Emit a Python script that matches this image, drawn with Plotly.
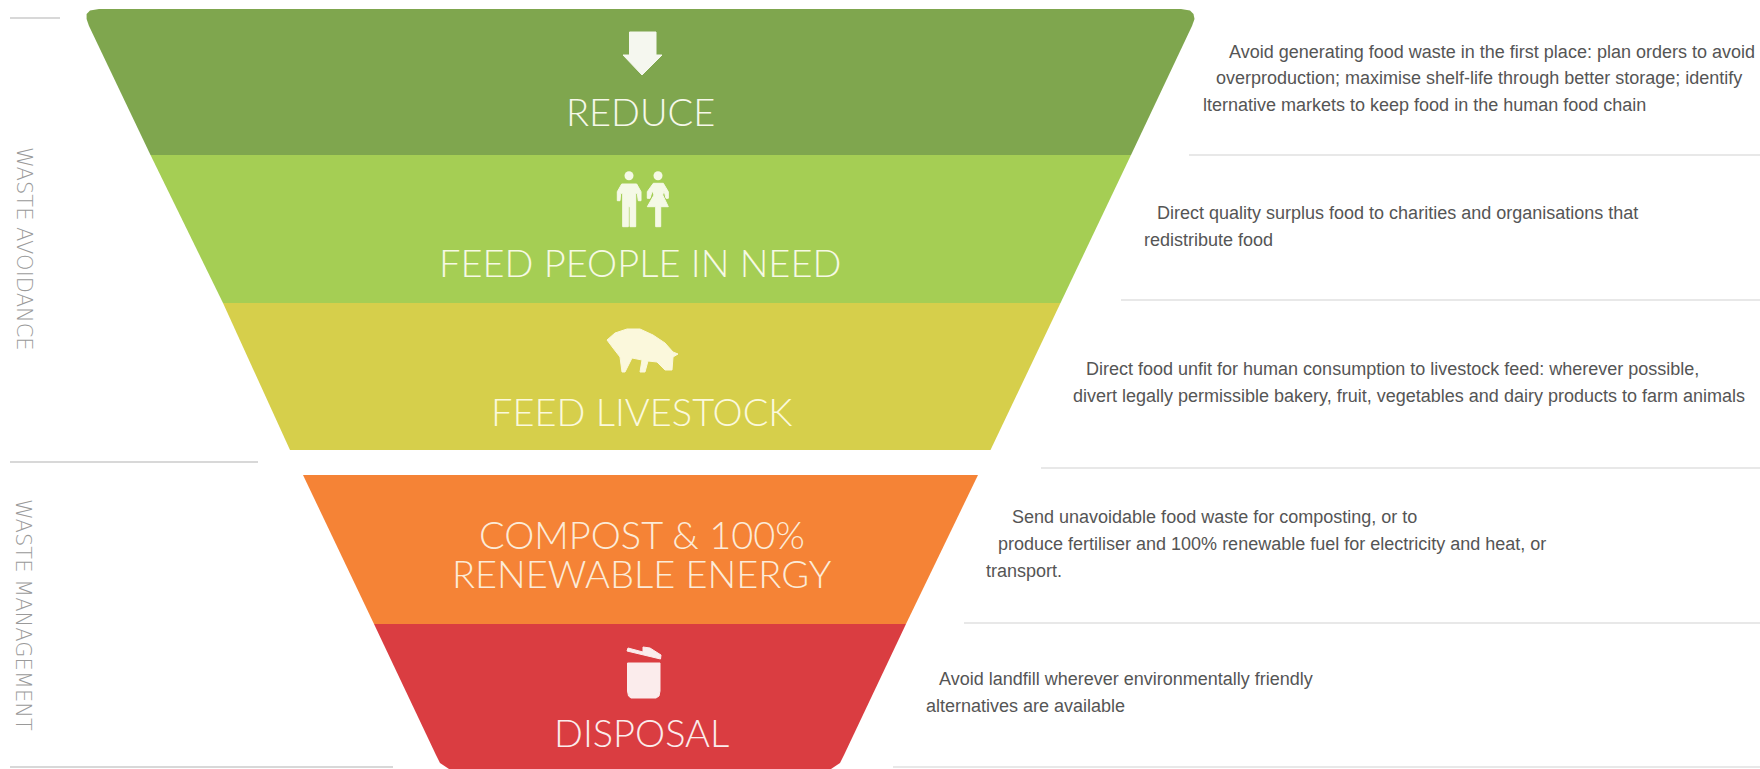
import plotly.graph_objects as go

# Funnel bands (x, y in image pixels)
BAND_NAMES = ["Reduce", "Feed people in need", "Feed livestock", "Compost & renewable energy", "Disposal"]
BAND_COLORS = ["#7FA64E", "#A5CE54", "#D6CF4B", "#F58336", "#DA3D41"]
BAND_X = [
    [89, 86.6, 86.6, 90, 99, 1181, 1190, 1193.5, 1194.5, 1192, 1131, 150.5],
    [150.5, 1131, 1060.5, 223],
    [223, 1060.5, 990.5, 290],
    [303, 978, 906, 374],
    [374, 906, 844, 840, 831, 449, 440, 436],
]
BAND_Y = [
    [26, 19, 14, 10.5, 9, 9, 10.5, 14, 19, 26, 155, 155],
    [155, 155, 303, 303],
    [303, 303, 450, 450],
    [475, 475, 624, 624],
    [624, 624, 755, 763, 769, 769, 763, 755],
]

# Band titles
LABELS = ["REDUCE", "FEED PEOPLE IN NEED", "FEED LIVESTOCK", "COMPOST & 100%", "RENEWABLE ENERGY", "DISPOSAL"]
LABEL_X = [640, 640, 641, 642, 642, 641]
LABEL_Y = [111, 262, 411, 534, 573, 732]
LABEL_COLORS = ["#F6F8EA", "#F6F9E4", "#FBF9DC", "#FCEBD8", "#FCEBD8", "#FBECEC"]

# Descriptions, one entry per printed line
DESC = [
    "Avoid generating food waste in the first place: plan orders to avoid",
    "overproduction; maximise shelf-life through better storage; identify",
    "lternative markets to keep food in the human food chain",
    "Direct quality surplus food to charities and organisations that",
    "redistribute food",
    "Direct food unfit for human consumption to livestock feed: wherever possible,",
    "divert legally permissible bakery, fruit, vegetables and dairy products to farm animals",
    "Send unavoidable food waste for composting, or to",
    "produce fertiliser and 100% renewable fuel for electricity and heat, or",
    "transport.",
    "Avoid landfill wherever environmentally friendly",
    "alternatives are available",
]
DESC_X = [1227, 1214, 1201, 1155, 1142, 1084, 1071, 1010, 996, 984, 937, 924]
DESC_Y = [52, 78, 105, 213, 240, 369, 396, 517, 544, 571, 679, 706]

# Side labels
SIDE = ["WASTE AVOIDANCE", "WASTE MANAGEMENT"]
SIDE_X = [24, 23]
SIDE_Y = [249, 615]

# Separator rules: x start, x end, y
RULE_X0 = [10, 10, 10, 1189, 1121, 1041, 964, 893]
RULE_X1 = [60, 258, 393, 1760, 1760, 1760, 1760, 1760]
RULE_Y = [18, 462, 767, 155, 300, 468, 623, 767]
RULE_COLOR = ["#D8D8D8", "#D8D8D8", "#D8D8D8", "#E8E8E8", "#E8E8E8", "#E8E8E8", "#E8E8E8", "#E8E8E8"]

# Icons (outline points)
ARROW_X = [629.5, 656, 656, 662, 642, 623, 629.5]
ARROW_Y = [32, 32, 55, 55, 75, 55, 55]
MAN_X = [621.7, 636.7, 641, 641, 638.3, 637.3, 635.7, 635.7, 630, 630, 628.3, 628.3, 622.7, 622.7, 620.7, 620, 617.3, 617.3]
MAN_Y = [184, 184, 191.7, 200.7, 200.7, 193.3, 193.3, 226.7, 226.7, 206.7, 206.7, 226.7, 226.7, 193.3, 193.3, 200.7, 200.7, 191.7]
WOMAN_X = [653.3, 663.3, 668.3, 668.3, 666, 664, 662.7, 668.3, 660.7, 660.7, 655.7, 655.7, 647.3, 654, 652.3, 650, 647.3, 647.3]
WOMAN_Y = [183.3, 183.3, 191.7, 198.3, 198.3, 190.7, 195, 206.7, 206.7, 226.7, 226.7, 206.7, 206.7, 195, 190.7, 198.3, 198.3, 191.7]
HEAD_X = [629, 658]
HEAD_Y = [175.7, 175.7]
PIG_X = [607, 615, 627, 640, 653, 665, 673, 678, 673, 672, 665, 657, 648, 645, 640, 642, 632, 625, 622, 620, 613, 611, 607]
PIG_Y = [340, 333, 329, 329, 335, 343, 352, 354, 357, 370, 370, 362, 361, 372, 372, 360, 358, 372, 372, 357, 348, 345, 340]
BIN_X = [627.5, 660, 660, 659, 656, 631, 628.5, 627.5]
BIN_Y = [663, 663, 691, 696, 698, 698, 696, 691]
LID_X = [628, 643, 643, 650, 661, 660.5, 627]
LID_Y = [648, 652, 647, 648, 655, 659, 651]

fig = go.Figure()

for name, xs, ys, color in zip(BAND_NAMES, BAND_X, BAND_Y, BAND_COLORS):
    fig.add_trace(go.Scatter(x=xs + xs[:1], y=ys + ys[:1], name=name, mode="lines", fill="toself",
                             fillcolor=color, line=dict(width=0, color=color), hoverinfo="skip"))

for x0, x1, y, c in zip(RULE_X0, RULE_X1, RULE_Y, RULE_COLOR):
    fig.add_trace(go.Scatter(x=[x0, x1], y=[y, y], mode="lines", line=dict(color=c, width=2), hoverinfo="skip"))

ICONS = [(ARROW_X, ARROW_Y, "#F5F7EF"), (MAN_X, MAN_Y, "#F5F9E6"), (WOMAN_X, WOMAN_Y, "#F5F9E6"),
         (PIG_X, PIG_Y, "#FBF8DC"), (BIN_X, BIN_Y, "#FBECEC"), (LID_X, LID_Y, "#FBECEC")]
for xs, ys, c in ICONS:
    fig.add_trace(go.Scatter(x=xs + xs[:1], y=ys + ys[:1], mode="lines", fill="toself", fillcolor=c,
                             line=dict(width=1, color=c), hoverinfo="skip"))
fig.add_trace(go.Scatter(x=HEAD_X, y=HEAD_Y, mode="markers", marker=dict(size=9, color="#F5F9E6"), hoverinfo="skip"))

for t, x, y, c in zip(LABELS, LABEL_X, LABEL_Y, LABEL_COLORS):
    fig.add_annotation(x=x, y=y, text=t, showarrow=False, xanchor="center", yanchor="middle",
                       font=dict(family="Lato", size=38, color=c, weight=300))
for t, x, y in zip(DESC, DESC_X, DESC_Y):
    fig.add_annotation(x=x, y=y, text=t, showarrow=False, xanchor="left", yanchor="middle",
                       font=dict(family="Liberation Sans", size=18, color="#555555"))
for t, x, y in zip(SIDE, SIDE_X, SIDE_Y):
    fig.add_annotation(x=x, y=y, text=t, showarrow=False, textangle=90, xanchor="center", yanchor="middle",
                       font=dict(family="DejaVu Sans", size=21, color="#9A9A9A", weight=200))

fig.update_layout(
    width=1760, height=769, margin=dict(l=0, r=0, t=0, b=0), showlegend=False,
    paper_bgcolor="white", plot_bgcolor="white",
    xaxis=dict(range=[0, 1760], visible=False, fixedrange=True),
    yaxis=dict(range=[769, 0], visible=False, fixedrange=True),
)
fig.write_html("out.html", config=dict(displayModeBar=False),
               post_script="document.body.style.margin='0';document.body.style.overflow='hidden';")
